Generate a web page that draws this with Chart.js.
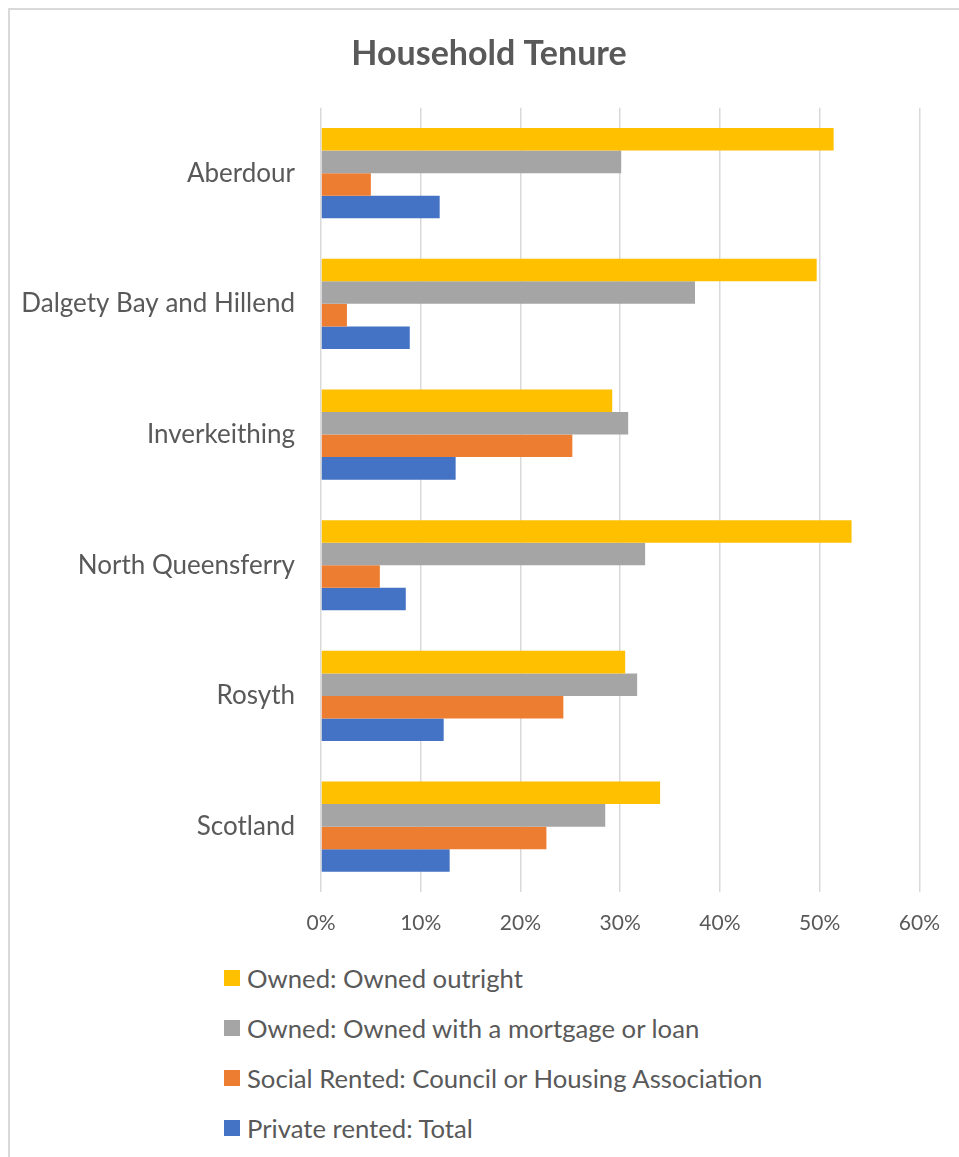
<!DOCTYPE html>
<html>
<head>
<meta charset="utf-8">
<script src="https://cdn.jsdelivr.net/npm/chart.js@4.4.1/dist/chart.umd.min.js"></script>
<style>
    html, body { margin: 0; padding: 0; background: #fff; overflow: hidden; }
    body { width: 959px; height: 1157px; position: relative; font-family: Lato, sans-serif; }
    #frame { position: absolute; left: 8px; top: 8px; width: 1000px; height: 1200px; border: 2px solid #d9d9d9; box-sizing: border-box; }
    #tenureChart { position: absolute; left: 0; top: 0; }
    #legend { position: absolute; left: 224px; top: 953px; color: #595959; font-size: 25.7px; }
    .legend-row { display: flex; align-items: center; height: 50px; }
    .legend-box { width: 16px; height: 16px; margin-right: 7px; }
</style>
</head>
<body>
<div id="frame"></div>
<canvas id="tenureChart" width="959" height="950"></canvas>
<div id="legend"></div>
<script>
const areas = ['Aberdour', 'Dalgety Bay and Hillend', 'Inverkeithing', 'North Queensferry', 'Rosyth', 'Scotland'];
const seriesNames = [
    'Owned: Owned outright',
    'Owned: Owned with a mortgage or loan',
    'Social Rented: Council or Housing Association',
    'Private rented: Total'
];
const seriesColors = ['#ffc000', '#a5a5a5', '#ed7d31', '#4472c4'];

// shares of households
const ownedOutright = [0.514, 0.497, 0.292, 0.532, 0.305, 0.340];
const ownedMortgage = [0.301, 0.375, 0.308, 0.325, 0.317, 0.285];
const socialRented  = [0.050, 0.026, 0.252, 0.059, 0.243, 0.226];
const privateRented = [0.119, 0.089, 0.135, 0.085, 0.123, 0.129];

const xTicks = [0, 0.1, 0.2, 0.3, 0.4, 0.5, 0.6];

const textColor = '#595959';
const gridColor = '#d9d9d9';

window.addEventListener('load', () => {
    renderTenureChart();
    renderLegend();
});

function renderTenureChart() {
    const ctx = document.getElementById('tenureChart').getContext('2d');
    const values = [ownedOutright, ownedMortgage, socialRented, privateRented];

    new Chart(ctx, {
        type: 'bar',
        data: {
            labels: areas,
            datasets: values.map((v, i) => ({
                label: seriesNames[i], data: v, backgroundColor: seriesColors[i],
                categoryPercentage: 0.69, barPercentage: 1.0, borderWidth: 0
            }))
        },
        options: {
            indexAxis: 'y', responsive: false, animation: false,
            // small left padding so the title centres where the original one does
            layout: { padding: { left: 19, right: 0, top: 0, bottom: 0 } },
            plugins: {
                legend: { display: false },
                tooltip: { enabled: false },
                title: {
                    display: true, text: 'Household Tenure', color: textColor,
                    font: { family: 'Lato', size: 34, weight: 'bold' },
                    padding: { top: 34, bottom: 33 }
                }
            },
            scales: {
                x: {
                    min: 0, max: 0.6,
                    afterBuildTicks: (scale) => { scale.ticks = xTicks.map(v => ({ value: v })); },
                    afterFit: (scale) => { scale.height = 58; },
                    grid: { color: gridColor, lineWidth: 1.5, drawTicks: false },
                    border: { display: false },
                    ticks: {
                        color: textColor, padding: 19, font: { family: 'Lato', size: 21 },
                        callback: (v) => Math.round(v * 100) + '%'
                    }
                },
                y: {
                    afterFit: (scale) => { scale.width = 321 - 19; },
                    grid: { display: false, drawTicks: false },
                    border: { display: false },
                    ticks: { color: textColor, padding: 26, font: { family: 'Lato', size: 26 } }
                },
                // empty strip on the right, keeps the 60% line off the edge
                yRight: {
                    type: 'category', position: 'right',
                    afterFit: (scale) => { scale.width = 38; },
                    grid: { display: false, drawTicks: false },
                    border: { display: false },
                    ticks: { display: false }
                }
            }
        }
    });
}

function renderLegend() {
    const legend = document.getElementById('legend');
    seriesNames.forEach((name, i) => {
        const row = document.createElement('div');
        row.className = 'legend-row';
        row.innerHTML = `<span class="legend-box" style="background:${seriesColors[i]}"></span><span>${name}</span>`;
        legend.appendChild(row);
    });
}
</script>
</body>
</html>
